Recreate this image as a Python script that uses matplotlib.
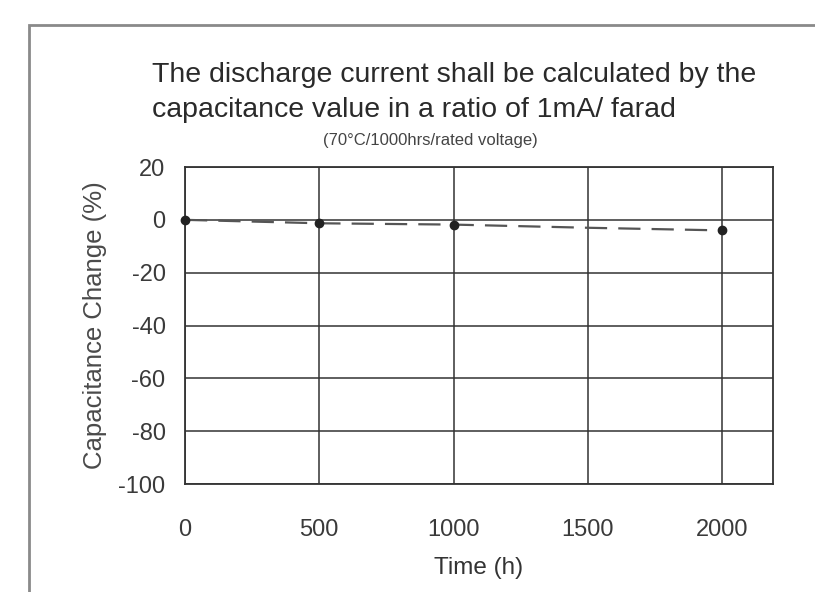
import matplotlib
matplotlib.use('Agg')
import matplotlib.pyplot as plt
from matplotlib.patches import Rectangle

# Data
time_h = [0, 500, 1000, 1500, 2000]
cap_change = [0, -1.3, -1.8, -3.0, -4.0]
marker_idx = [0, 1, 2, 4]  # no dot drawn at 1500 h

x_ticks = [0, 500, 1000, 1500, 2000]
y_ticks = [20, 0, -20, -40, -60, -80, -100]

title1 = 'The discharge current shall be calculated by the'
title2 = 'capacitance value in a ratio of 1mA/ farad'
subtitle = '(70\u00b0C/1000hrs/rated voltage)'


def main():
    plt.rcParams['font.family'] = ['Liberation Sans', 'DejaVu Sans']
    plt.rcParams['axes.unicode_minus'] = False
    fig = plt.figure(figsize=(8.15, 5.92), dpi=100)
    ax = fig.add_axes([0.227, 0.1824, 0.7215, 0.5355])

    # outer frame of the scanned page
    fig.patches.append(Rectangle((29 / 815, -0.05), 1.0, 1 - 25 / 592 + 0.05,
                                 transform=fig.transFigure, fill=False,
                                 edgecolor='#8a8a8a', linewidth=2.0))

    ax.plot(time_h, cap_change, color='#555555', linewidth=1.6,
            linestyle=(0, (10, 5)), zorder=3)
    ax.plot([time_h[i] for i in marker_idx], [cap_change[i] for i in marker_idx],
            'o', color='#222222', markersize=6, zorder=4, clip_on=False)

    ax.set_xlim(0, 2190)
    ax.set_ylim(-100, 20)
    ax.set_xticks(x_ticks)
    ax.set_yticks(y_ticks)
    ax.tick_params(length=0, labelsize=17, colors='#3a3a3a', pad=14)
    ax.tick_params(axis='x', pad=25)
    ax.grid(True, color='#333333', linewidth=1.1)
    for s in ax.spines.values():
        s.set_color('#333333')
        s.set_linewidth(1.3)

    ax.set_xlabel('Time (h)', fontsize=17.5, color='#333333', labelpad=12)
    ax.set_ylabel('Capacitance Change (%)', fontsize=18.5, color='#4a4a4a', labelpad=8)

    fig.text(152 / 815, 1 - 75 / 592, title1, fontsize=20.5, color='#2a2a2a', va='center')
    fig.text(152 / 815, 1 - 110 / 592, title2, fontsize=20.5, color='#2a2a2a', va='center')
    fig.text(430 / 815, 1 - 141 / 592, subtitle, fontsize=12, color='#444444',
             ha='center', va='center')

    fig.savefig('out.png', dpi=100)


if __name__ == "__main__":
    main()
